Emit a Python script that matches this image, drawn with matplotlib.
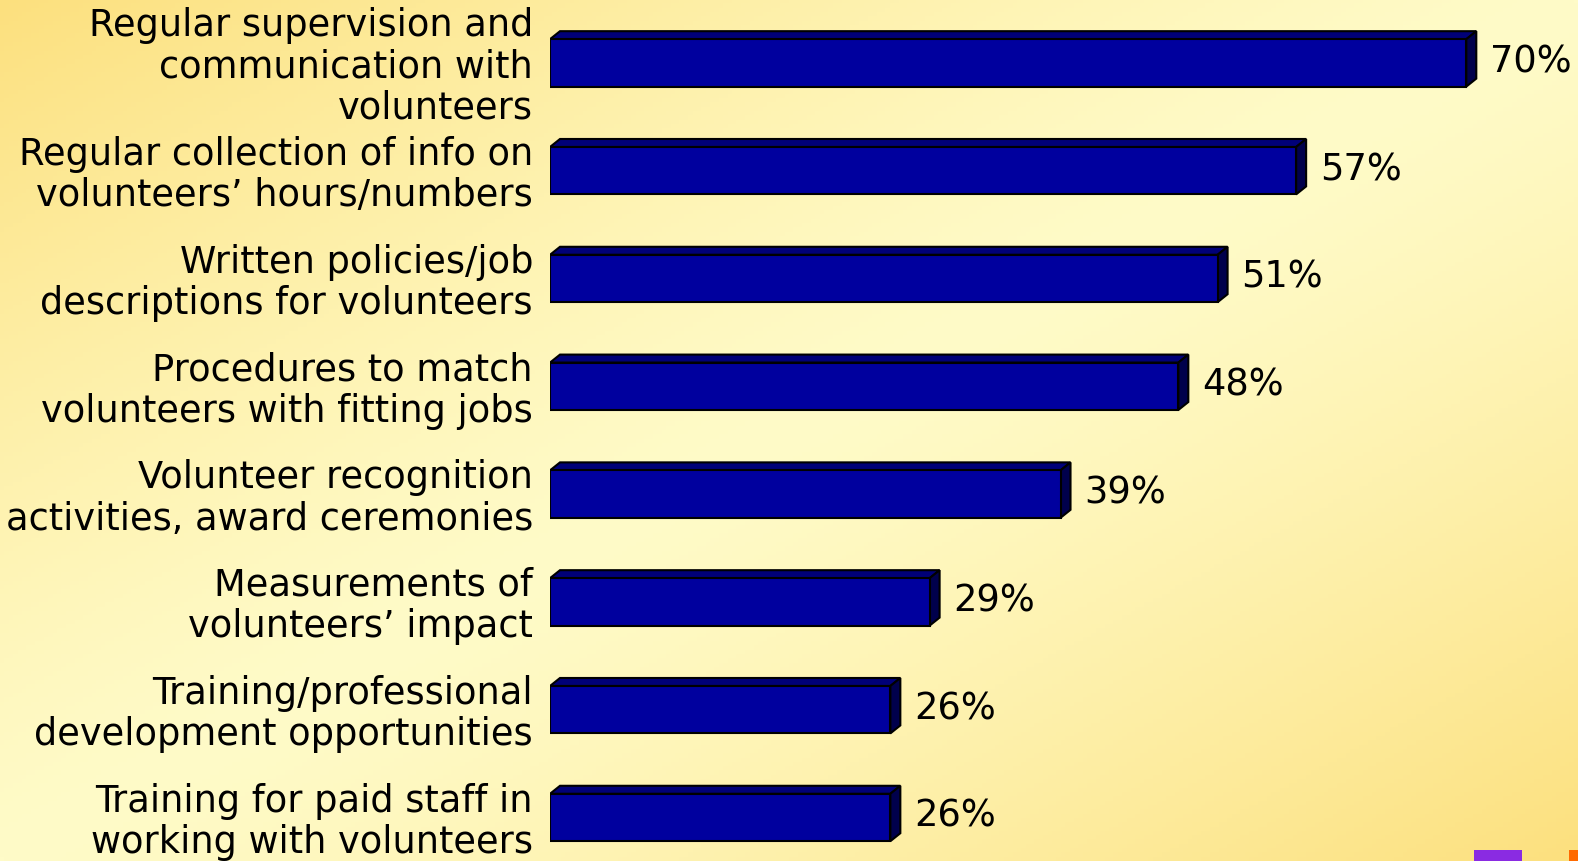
import numpy as np
import matplotlib
matplotlib.use("Agg")
import matplotlib.pyplot as plt
from matplotlib.patches import Polygon, Rectangle

labels = [
    "Regular supervision and\ncommunication with\nvolunteers",
    "Regular collection of info on\nvolunteers’ hours/numbers",
    "Written policies/job\ndescriptions for volunteers",
    "Procedures to match\nvolunteers with fitting jobs",
    "Volunteer recognition\nactivities, award ceremonies",
    "Measurements of\nvolunteers’ impact",
    "Training/professional\ndevelopment opportunities",
    "Training for paid staff in\nworking with volunteers",
]
values = [70, 57, 51, 48, 39, 29, 26, 26]

W, H = 1578, 862
fig = plt.figure(figsize=(W / 100, H / 100), dpi=100)

# yellow diagonal gradient behind everything
bg = fig.add_axes([0, 0, 1, 1])
yy, xx = np.mgrid[0:1:200j, 0:1:360j]
t = np.abs(xx + yy - 1.0)
t = np.clip(t, 0, 1) ** 1.3
pale = np.array([255, 251, 200]) / 255
warm = np.array([252, 224, 126]) / 255
img = pale[None, None, :] + (warm - pale)[None, None, :] * t[..., None]
bg.imshow(img, extent=[0, 1, 0, 1], aspect="auto", origin="upper")
bg.axis("off")

# bar axes: zero at x=550px, 13.09 px per percent
x0 = 550
px_per = 13.09
ax = fig.add_axes([x0 / W, 0, 1 - x0 / W, 1])
ax.set_xlim(0, (W - x0) / px_per)
pitch = 107.8
c0 = 63.9
ax.set_ylim((H - c0) / pitch, -c0 / pitch)
ax.axis("off")

bh = 0.44
dx = 10 / px_per
dy = 8 / pitch
front = "#00009e"
top = "#000078"
side = "#00004c"
fs = 26.5

for i, (lab, v) in enumerate(zip(labels, values)):
    y1 = i - bh / 2
    y2 = i + bh / 2
    ax.add_patch(Polygon([(0, y1), (dx, y1 - dy), (v + dx, y1 - dy), (v, y1)],
                         closed=True, facecolor=top, edgecolor="black", lw=1.5))
    ax.add_patch(Polygon([(v, y1), (v + dx, y1 - dy), (v + dx, y2 - dy), (v, y2)],
                         closed=True, facecolor=side, edgecolor="black", lw=1.5))
    ax.add_patch(Rectangle((0, y1), v, bh, facecolor=front, edgecolor="black", lw=1.5))
    ax.text(v + 1.8, i - 0.02, f"{v}%", fontsize=fs, va="center", ha="left",
            family="DejaVu Sans")
    ax.text(-17 / px_per, i + 0.03, lab, fontsize=fs, va="center", ha="right",
            multialignment="right", linespacing=1.15, family="DejaVu Sans",
            clip_on=False)

# logo corner pieces
fig.add_artist(Rectangle((1474 / W, 0), 48 / W, 11 / H, transform=fig.transFigure,
                         facecolor="#8a2be2", edgecolor="none"))
fig.add_artist(Rectangle((1569 / W, 0), 9 / W, 11 / H, transform=fig.transFigure,
                         facecolor="#ff6a00", edgecolor="none"))

fig.savefig("out.png", dpi=100)
